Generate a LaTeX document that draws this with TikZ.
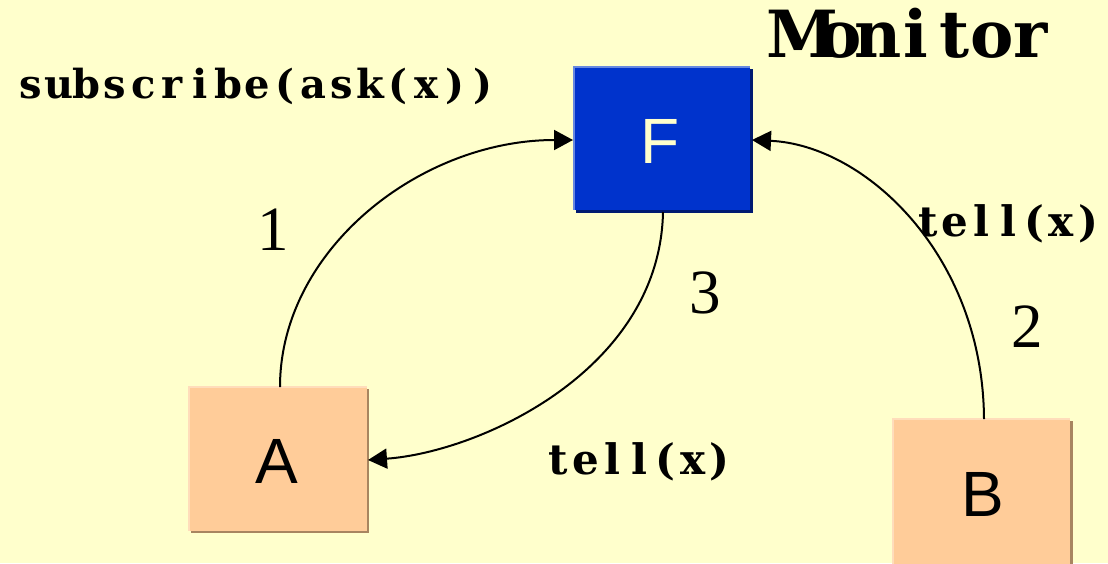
\documentclass[tikz,border=0pt]{standalone}
\usepackage{fontspec}
\setmainfont{Liberation Serif}
\newfontfamily\sansf{Liberation Sans}
\newfontfamily\lblf{DejaVu Serif}
\usetikzlibrary{arrows.meta}
\definecolor{bg}{HTML}{FFFFCC}
\definecolor{fblue}{HTML}{0033CC}
\definecolor{fshadow}{HTML}{001A70}
\definecolor{flight}{HTML}{6688E0}
\definecolor{peach}{HTML}{FFCC99}
\definecolor{pshadow}{HTML}{A88560}
\definecolor{plight}{HTML}{FFDDBB}
\newlength\monow
\def\monoloop#1{\ifx#1\relax\else\makebox[\monow]{#1}\expandafter\monoloop\fi}
\newcommand\monotext[2]{\setlength\monow{#1}\monoloop#2\relax}
\tikzset{
  lbl/.style={inner sep=0pt, anchor=base west},
  digit/.style={inner sep=0pt, anchor=base, font=\fontsize{63}{63}\selectfont},
  boxletter/.style={inner sep=0pt, anchor=base, font=\sansf\fontsize{64}{64}\selectfont},
  conn/.style={line width=2pt, -{Triangle[length=19pt,width=20pt]}},
}
\begin{document}
\begin{tikzpicture}[x=1pt,y=-1pt]
\fill[bg] (0,0) rectangle (1108,563);
\useasboundingbox (0,0) rectangle (1108,563);
% F box
\fill[fshadow] (576,69) rectangle (753,213);
\fill[fblue] (573,66) rectangle (750,210);
\fill[flight] (573,66) rectangle (750,67.5);
\fill[flight] (573,66) rectangle (574.5,210);
\coordinate (Fw) at (573,140);
\coordinate (Fe) at (752,140);
\coordinate (Fs) at (663,212);
\node[boxletter, text=bg] (F) at (660,163) {F};
% A box
\fill[pshadow] (191,389) rectangle (369,533);
\fill[peach] (188,386) rectangle (366.5,530.5);
\fill[plight] (188,386) rectangle (366.5,387.5);
\fill[plight] (188,386) rectangle (189.5,530.5);
\coordinate (An) at (280,387);
\coordinate (Ae) at (368,460);
\node[boxletter] (A) at (277,483) {A};
% B box
\fill[pshadow] (895,421) rectangle (1073,566);
\fill[peach] (892,418) rectangle (1070,566);
\fill[plight] (892,418) rectangle (1070,419.5);
\fill[plight] (892,418) rectangle (893.5,566);
\coordinate (Bn) at (984,419);
\node[boxletter] (B) at (983,516) {B};
% connectors
\draw[conn] (An) .. controls (280,250) and (420,140) .. (Fw);
\draw[conn] (Bn) .. controls (983,255) and (865,145) .. (Fe);
\draw[conn] (Fs) .. controls (660,370) and (480,452) .. (Ae);
% labels
\node[lbl, font=\lblf\bfseries\fontsize{40}{40}\selectfont] (sub) at (16,98) {\monotext{28.3pt}{subscribe(ask(x))}};
\node[lbl, font=\lblf\bfseries\fontsize{65}{65}\selectfont] (mon) at (783,57) {\monotext{38pt}{Monitor}};
\node[lbl, font=\lblf\bfseries\fontsize{42}{42}\selectfont] (t1) at (915,236) {\monotext{26.6pt}{tell(x)}};
\node[lbl, font=\lblf\bfseries\fontsize{42}{42}\selectfont] (t2) at (545,474) {\monotext{26.8pt}{tell(x)}};
\node[digit] (n1) at (273,250) {1};
\node[digit] (n2) at (1027,347) {2};
\node[digit] (n3) at (705,313) {3};
\end{tikzpicture}
\end{document}
